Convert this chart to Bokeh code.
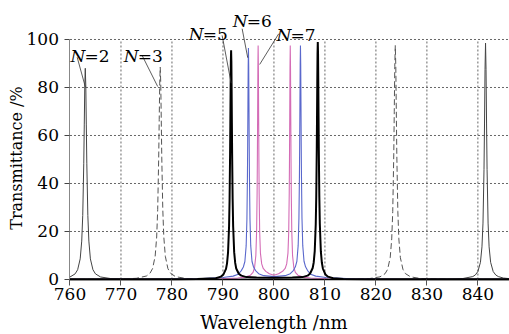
import math
from bokeh.plotting import figure
from bokeh.models import Range1d, FixedTicker, Label
from bokeh.embed import file_html
from bokeh.resources import INLINE

# ---- data ----
x_ticks = [760, 770, 780, 790, 800, 810, 820, 830, 840]
y_ticks = [0, 20, 40, 60, 80, 100]
x_max = 846.2

n2_x = [760, 761, 761.5, 762, 762.3, 762.5, 762.7, 762.8, 762.9, 763.0,
        763.1, 763.2, 763.3, 763.5, 763.7, 764, 764.5, 765, 766, 768,
        772, 780, 790, 800, 810, 820, 830, 835, 837, 839,
        839.5, 840, 840.5, 840.8, 841.0, 841.2, 841.3, 841.4, 841.5, 841.6,
        841.7, 841.8, 842.0, 842.2, 842.5, 843, 843.5, 844, 845, 846.2]
n2_y = [1.05, 2.33, 4.06, 8.6, 16.0, 26.7, 48.2, 64.4, 80.6, 88,
        80.6, 64.4, 48.2, 26.7, 16.0, 8.6, 4.06, 2.33, 1.05, 0.38,
        0.15, 0.1, 0.1, 0.1, 0.1, 0.1, 0.12, 0.18, 0.38, 1.22,
        1.89, 3.32, 7.16, 13.6, 23.5, 45.9, 65.2, 87.4, 98.5, 87.4,
        65.2, 45.9, 23.5, 13.6, 7.16, 3.32, 1.89, 1.22, 0.6, 0.35]

n3_x = [760, 765, 770, 773, 775, 775.7, 776.2, 776.7, 777.0, 777.2,
        777.4, 777.5, 777.6, 777.7, 777.8, 777.9, 778.0, 778.2, 778.4, 778.7,
        779.2, 779.7, 780.7, 782.7, 787.7, 795, 805, 813.8, 818.8, 820.8,
        821.8, 822.3, 822.8, 823.1, 823.3, 823.5, 823.6, 823.7, 823.8, 823.9,
        824.0, 824.1, 824.3, 824.5, 824.8, 825.3, 825.8, 826.8, 828.8, 835,
        846.2]
n3_y = [0.05, 0.07, 0.18, 0.49, 1.46, 2.63, 4.57, 9.66, 17.7, 29.1,
        51.0, 66.7, 81.8, 88.5, 81.8, 66.7, 51.0, 29.1, 17.7, 9.66,
        4.57, 2.63, 1.19, 0.43, 0.11, 0.08, 0.08, 0.1, 0.4, 1.1,
        2.43, 4.24, 9.05, 16.9, 28.3, 51.9, 70.1, 88.8, 97.5, 88.8,
        70.1, 51.9, 28.3, 16.9, 9.05, 4.24, 2.43, 1.1, 0.4, 0.08,
        0.03]

n5_x = [760, 770, 780, 785, 788.6, 789.6, 790.1, 790.6, 790.8, 791.0,
        791.2, 791.3, 791.4, 791.45, 791.5, 791.55, 791.6, 791.65, 791.7, 791.75,
        791.8, 791.9, 792.0, 792.2, 792.4, 792.6, 793.1, 793.6, 794.6, 796.6,
        800, 803.6, 805.6, 806.6, 807.1, 807.6, 807.8, 808.0, 808.2, 808.3,
        808.4, 808.45, 808.5, 808.55, 808.6, 808.65, 808.7, 808.75, 808.8, 808.9,
        809.0, 809.2, 809.4, 809.6, 810.1, 810.6, 811.6, 813.6, 818.6, 830,
        846.2]
n5_y = [0.05, 0.1, 0.15, 0.2, 0.55, 1.2, 2.1, 4.41, 6.72, 11.3,
        22.2, 33.4, 52.3, 65.2, 79.1, 90.8, 95.5, 90.8, 79.1, 65.2,
        52.3, 33.4, 22.2, 11.4, 6.9, 4.6, 2.4, 1.6, 1.0, 0.8,
        0.75, 0.8, 1.0, 1.6, 2.5, 4.8, 7.1, 11.8, 23.0, 34.6,
        54.2, 67.5, 82.0, 94.0, 98.9, 94.0, 82.0, 67.5, 54.2, 34.6,
        23.0, 11.7, 6.96, 4.57, 2.08, 1.18, 0.53, 0.19, 0.1, 0.06,
        0.05]

n6_x = [760, 775, 785, 790, 792, 793, 793.6, 794.0, 794.3, 794.55,
        794.7, 794.8, 794.85, 794.9, 794.95, 795.0, 795.05, 795.1, 795.15, 795.2,
        795.3, 795.45, 795.7, 796.0, 796.4, 797.0, 798.0, 800.1, 802.2, 803.2,
        803.8, 804.2, 804.5, 804.75, 804.9, 805.0, 805.05, 805.1, 805.15, 805.2,
        805.25, 805.3, 805.35, 805.4, 805.5, 805.65, 805.9, 806.2, 806.6, 807.2,
        808.2, 810.2, 815.2, 825, 846.2]
n6_y = [0.05, 0.1, 0.3, 0.8, 1.4, 2.2, 3.7, 5.2, 7.5, 14.0,
        25.1, 42.5, 56.0, 73.3, 88.8, 96.5, 88.8, 73.3, 56.0, 42.5,
        25.1, 14.0, 7.5, 5.2, 3.7, 2.4, 1.6, 1.2, 1.6, 2.4,
        3.7, 5.3, 7.6, 14.1, 25.4, 42.9, 56.6, 74.1, 89.7, 97.5,
        89.7, 74.1, 56.6, 42.9, 25.4, 14.1, 7.6, 5.3, 3.7, 2.2,
        1.4, 0.8, 0.3, 0.1, 0.05]

n7_x = [760, 779.9, 789.9, 792.9, 794.4, 795.4, 795.9, 796.2, 796.45, 796.6,
        796.7, 796.75, 796.8, 796.85, 796.9, 796.95, 797.0, 797.05, 797.1, 797.2,
        797.35, 797.6, 797.9, 798.4, 799.1, 800.0, 800.9, 801.7, 802.2, 802.5,
        802.75, 802.9, 803.0, 803.05, 803.1, 803.15, 803.2, 803.25, 803.3, 803.35,
        803.4, 803.5, 803.65, 803.9, 804.2, 804.7, 805.7, 807.2, 810.2, 820.2,
        846.2]
n7_y = [0.05, 0.1, 0.3, 0.6, 1.0, 1.8, 3.0, 5.0, 10, 20,
        36, 50, 68, 88, 97.5, 88, 68, 50, 36, 20,
        11, 6.5, 4.6, 3.4, 2.4, 1.8, 2.4, 3.4, 4.6, 6.5,
        11, 20, 36, 50, 68, 88, 97.5, 88, 68, 50,
        36, 20, 10, 5, 3, 1.8, 1.0, 0.6, 0.3, 0.1,
        0.05]

series_labels = ["=2", "=3", "=5", "=6", "=7"]
x_title = "Wavelength /nm"
y_title = "Transmittance /%"

# ---- figure: frame covers the whole canvas, axes pinned inside it ----
SERIF = "DejaVu Serif"
p = figure(width=509, height=334, output_backend="svg", toolbar_location=None,
           x_range=Range1d(746.37, x_max), y_range=Range1d(-22.92, 116.25),
           min_border=0)
p.outline_line_color = None
p.background_fill_color = "white"
p.border_fill_color = "white"
p.xgrid.visible = False
p.ygrid.visible = False

# grid (dotted) limited to the data box
gx = x_ticks[1:]
p.segment(x0=gx, y0=[y_ticks[0]] * len(gx), x1=gx, y1=[y_ticks[-1]] * len(gx),
          line_color="#666666", line_width=1, line_dash="2 2")
gy = y_ticks[1:]
p.segment(x0=[x_ticks[0]] * len(gy), y0=gy, x1=[x_max] * len(gy), y1=gy,
          line_color="#666666", line_width=1, line_dash="2 2")

# axes
xa = p.xaxis[0]
xa.fixed_location = 0
xa.bounds = (x_ticks[0], x_max)
xa.ticker = FixedTicker(ticks=x_ticks)
xa.axis_line_color = "black"
xa.axis_line_width = 1.5
xa.major_tick_out = 6
xa.major_tick_in = 0
xa.major_tick_line_color = "#555555"
xa.minor_tick_line_color = None
xa.major_label_text_font = SERIF
xa.major_label_text_font_size = "17px"
xa.major_label_text_color = "black"
xa.major_label_standoff = 3

ya = p.yaxis[0]
ya.fixed_location = x_ticks[0]
ya.bounds = (y_ticks[0], y_ticks[-1])
ya.ticker = FixedTicker(ticks=y_ticks)
ya.axis_line_color = "#888888"
ya.axis_line_width = 1
ya.major_tick_out = 5
ya.major_tick_in = 0
ya.major_tick_line_color = "#444444"
ya.minor_tick_line_color = None
ya.major_label_text_font = SERIF
ya.major_label_text_font_size = "17px"
ya.major_label_text_color = "black"
ya.major_label_standoff = 6

# axis titles
p.add_layout(Label(x=800.0, y=-17.9, text=x_title, text_font=SERIF,
                   text_font_size="18px", text_color="black",
                   text_align="center", text_baseline="middle"))
p.add_layout(Label(x=749.6, y=50.6, text=y_title, text_font=SERIF,
                   text_font_size="16px", text_color="black", angle=math.pi / 2,
                   text_align="center", text_baseline="middle"))

# curves
p.line(n2_x, n2_y, line_color="#444444", line_width=1)
p.line(n3_x, n3_y, line_color="#555555", line_width=1, line_dash="6 3")
p.line(n7_x, n7_y, line_color="#d46cb6", line_width=1.1)
p.line(n6_x, n6_y, line_color="#5a68cc", line_width=1.1)
p.line(n5_x, n5_y, line_color="black", line_width=2)

# leader lines
p.segment(x0=[761.41, 774.16, 789.84, 793.76, 800.94],
          y0=[92.6, 93.3, 101.7, 104.5, 102.4],
          x1=[763.04, 777.2, 791.61, 794.86, 797.2],
          y1=[80.0, 80.4, 81.8, 92.4, 89.6],
          line_color="#333333", line_width=0.8)

# series labels
lab_pos = [(760.1, 93.3), (770.55, 93.3), (783.3, 102.1), (791.92, 107.7), (800.49, 101.7)]
for (lx, ly), t in zip(lab_pos, series_labels):
    p.add_layout(Label(x=lx, y=ly, text="N", text_font=SERIF, text_font_size="17px",
                       text_font_style="italic", text_color="black",
                       text_baseline="alphabetic", text_align="left"))
    p.add_layout(Label(x=lx, y=ly, x_offset=14, text=t, text_font=SERIF,
                       text_font_size="17px", text_color="black",
                       text_baseline="alphabetic", text_align="left"))

open("out.html", "w").write(file_html(p, INLINE))
